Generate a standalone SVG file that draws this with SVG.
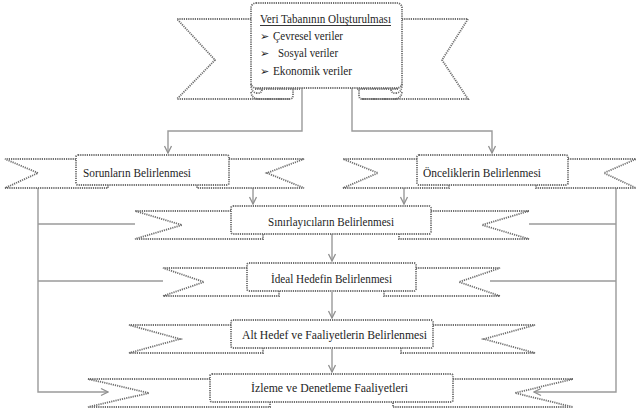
<svg xmlns="http://www.w3.org/2000/svg" width="640" height="414" viewBox="0 0 640 414">
<style>
.d{fill:#fff;stroke:#6e6e6e;stroke-width:1.8;stroke-dasharray:1.2 1}
.f{fill:none;stroke:#6e6e6e;stroke-width:1.8;stroke-dasharray:1.2 1}
.c{fill:none;stroke:#9a9a9a;stroke-width:1.4}
.t{font-family:"Liberation Serif","Times New Roman",serif;font-size:13.5px;fill:#1e1e1e}
.b{font-family:"DejaVu Sans",sans-serif;font-size:11px;fill:#1e1e1e}
</style>
<defs>
<marker id="a" markerUnits="userSpaceOnUse" markerWidth="10" markerHeight="10" viewBox="0 0 10 10" refX="9" refY="5" orient="auto">
<path d="M2,1.5 L9,5 L2,8.5" fill="none" stroke="#909090" stroke-width="1.3"/>
</marker>
</defs>
<rect width="640" height="414" fill="#fff"/>

<g id="connectors">
<path class="c" d="M302,88 V131 H168 V153" marker-end="url(#a)"/>
<path class="c" d="M352,88 V131 H492 V153" marker-end="url(#a)"/>
<path class="c" d="M253,188 V204" marker-end="url(#a)"/>
<path class="c" d="M404,188 V204" marker-end="url(#a)"/>
<path class="c" d="M332,234 V261" marker-end="url(#a)"/>
<path class="c" d="M332,292 V318" marker-end="url(#a)"/>
<path class="c" d="M332,349 V372" marker-end="url(#a)"/>
<path class="c" d="M38,188 V392 H108" marker-end="url(#a)"/>
<path class="c" d="M616,188 V392 H534" marker-end="url(#a)"/>
<path class="c" d="M38,224 H135"/>
<path class="c" d="M38,281 H163"/>
<path class="c" d="M616,224 H529"/>
<path class="c" d="M616,281 H490"/>
</g>

<g id="n-veri">
<path class="d" d="M251,19 H177 L215,60 L177,99 H290"/>
<path class="d" d="M402,19 H468 L442,60 L468,99 H362"/>
<rect class="d" x="251" y="3" width="151" height="85" rx="5"/>
<path class="f" d="M251,84 Q251,92 256,93 Q262,94 262,89 M255,89 H300 M251,92 Q252,99 258,99 H290 Q293,99 293,95 V89"/>
<path class="f" d="M402,84 Q402,92 397,93 Q391,94 391,89 M398,89 H357 M402,92 Q401,99 395,99 H362 Q359,99 359,95 V89"/>
<text class="t" x="260" y="23" textLength="131" lengthAdjust="spacingAndGlyphs">Veri Tabanının Oluşturulması</text>
<line x1="260" y1="25.5" x2="391" y2="25.5" stroke="#1e1e1e" stroke-width="0.9"/>
<text class="b" x="260" y="40">➢</text>
<text class="t" x="273" y="40" textLength="70" lengthAdjust="spacingAndGlyphs">Çevresel veriler</text>
<text class="b" x="260" y="57">➢</text>
<text class="t" x="278" y="57" textLength="60" lengthAdjust="spacingAndGlyphs">Sosyal veriler</text>
<text class="b" x="260" y="75">➢</text>
<text class="t" x="273" y="75" textLength="79" lengthAdjust="spacingAndGlyphs">Ekonomik veriler</text>
</g>

<g id="n-sorun">
<path class="d" d="M76,159 H5 L38,173 L5,188 H108 V185"/>
<path class="d" d="M229,159 H304 L267,173 L304,188 H197 V185"/>
<rect class="d" x="76" y="155" width="153" height="30" rx="2"/>
<text class="t" x="83" y="177" textLength="108" lengthAdjust="spacingAndGlyphs">Sorunların Belirlenmesi</text>
</g>

<g id="n-oncelik">
<path class="d" d="M417,159 H343 L378,173 L343,188 H449 V185"/>
<path class="d" d="M568,159 H636 L604,173 L636,188 H536 V185"/>
<rect class="d" x="417" y="155" width="151" height="30" rx="2"/>
<text class="t" x="423" y="177" textLength="118" lengthAdjust="spacingAndGlyphs">Önceliklerin Belirlenmesi</text>
</g>

<g id="n-sinir">
<path class="d" d="M231,211 H135 L182,225 L135,239 H263 V234"/>
<path class="d" d="M431,211 H529 L482,225 L529,239 H399 V234"/>
<rect class="d" x="231" y="206" width="200" height="28" rx="2"/>
<text class="t" x="268" y="226" textLength="126" lengthAdjust="spacingAndGlyphs">Sınırlayıcıların  Belirlenmesi</text>
</g>

<g id="n-ideal">
<path class="d" d="M247,268 H163 L204,282 L163,296 H279 V291"/>
<path class="d" d="M416,268 H500 L459,282 L500,296 H384 V291"/>
<rect class="d" x="247" y="263" width="169" height="28" rx="2"/>
<text class="t" x="271" y="283" textLength="121" lengthAdjust="spacingAndGlyphs">İdeal Hedefin Belirlenmesi</text>
</g>

<g id="n-alt">
<path class="d" d="M231,325 H129 L180,339 L129,353 H263 V348"/>
<path class="d" d="M433,325 H535 L484,339 L535,353 H401 V348"/>
<rect class="d" x="231" y="320" width="202" height="28" rx="2"/>
<text class="t" x="242" y="339" textLength="185" lengthAdjust="spacingAndGlyphs">Alt Hedef ve Faaliyetlerin  Belirlenmesi</text>
</g>

<g id="n-izleme">
<path class="d" d="M210,379 H88 L149,393 L88,407 H270 V402"/>
<path class="d" d="M453,379 H573 L515,393 L573,407 H393 V402"/>
<rect class="d" x="210" y="374" width="243" height="28" rx="2"/>
<text class="t" x="251" y="392" textLength="157" lengthAdjust="spacingAndGlyphs">İzleme ve Denetleme Faaliyetleri</text>
</g>
</svg>
